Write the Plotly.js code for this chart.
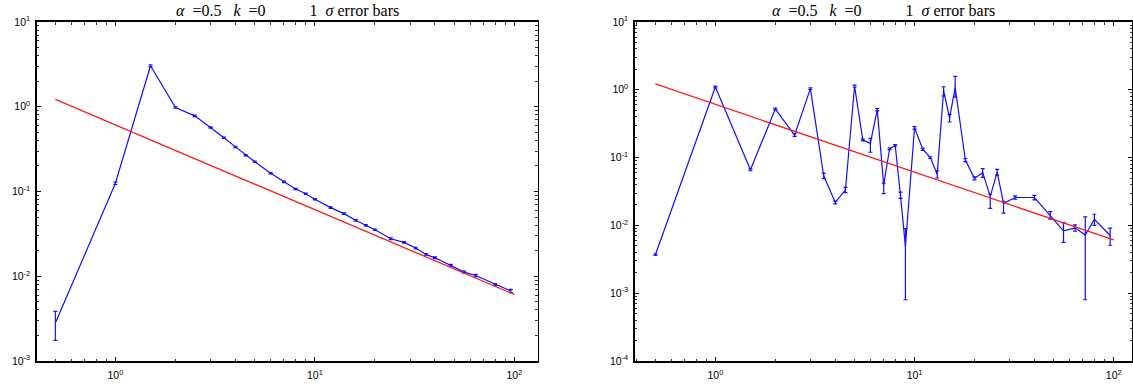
<!DOCTYPE html>
<html><head><meta charset="utf-8">
<script src="https://cdn.plot.ly/plotly-3.0.1.min.js"></script>
<style>html,body{margin:0;padding:0;background:#fff}#chart{width:1133px;height:386px}</style>
</head><body><div id="chart"></div>
<script>
// ---- Left panel data ----
const leftX = [0.5, 1, 1.5, 2, 2.5, 3, 3.5, 4, 4.5, 5, 6, 7, 8, 9, 10, 12, 14, 16, 18, 20, 24, 28, 32, 36, 40, 48, 56, 64, 80, 96];
const leftY = [0.0028, 0.125, 3.05, 0.98, 0.78, 0.57, 0.43, 0.336, 0.268, 0.224, 0.164, 0.13, 0.107, 0.094, 0.081, 0.0645, 0.0548, 0.0457, 0.0399, 0.0354, 0.0277, 0.0251, 0.0215, 0.0181, 0.0165, 0.0135, 0.0112, 0.0102, 0.0080, 0.0067];
const leftErr = [0.00105, 0.004, 0.08, 0.02, 0.015, 0.01, 0.008, 0.006, 0.005, 0.004, 0.003, 0.0025, 0.002, 0.0018, 0.0015, 0.0012, 0.001, 0.0009, 0.0008, 0.0007, 0.0006, 0.0005, 0.0005, 0.0004, 0.0004, 0.0003, 0.0003, 0.0003, 0.0002, 0.0003];

// ---- Right panel data ----
const rightX = [0.5, 1, 1.5, 2, 2.5, 3, 3.5, 4, 4.5, 5, 5.5, 6, 6.5, 7, 7.5, 8, 8.5, 9, 10, 11, 12, 13, 14, 15, 16, 18, 20, 22, 24, 26, 28, 32, 40, 48, 56, 64, 72, 80, 96];
const rightY = [0.0037, 1.1, 0.066, 0.52, 0.215, 1.04, 0.054, 0.0218, 0.0335, 1.13, 0.182, 0.162, 0.51, 0.040, 0.135, 0.151, 0.028, 0.0049, 0.275, 0.133, 0.100, 0.057, 0.96, 0.385, 1.08, 0.092, 0.0495, 0.060, 0.0268, 0.061, 0.0212, 0.0258, 0.0258, 0.0142, 0.0083, 0.0092, 0.0072, 0.0123, 0.0071];
const rightErrPlus = [0.0001, 0.03, 0.002, 0.015, 0.01, 0.03, 0.005, 0.001, 0.003, 0.04, 0.005, 0.03, 0.02, 0.002, 0.004, 0.004, 0.003, 0.0041, 0.012, 0.005, 0.003, 0.007, 0.15, 0.05, 0.5, 0.005, 0.0025, 0.009, 0.002, 0.006, 0.0015, 0.0015, 0.002, 0.0018, 0.0027, 0.001, 0.0062, 0.0023, 0.002];
const rightErrMinus = [0.0001, 0.03, 0.002, 0.015, 0.01, 0.03, 0.005, 0.001, 0.003, 0.04, 0.005, 0.042, 0.02, 0.0105, 0.004, 0.004, 0.003, 0.0041, 0.012, 0.005, 0.003, 0.007, 0.15, 0.05, 0.3, 0.005, 0.0025, 0.009, 0.009, 0.006, 0.006, 0.0015, 0.002, 0.0018, 0.0027, 0.001, 0.0064, 0.0023, 0.002];

// ---- Reference power-law line (endpoints) ----
const fitX = [0.5, 100];
const fitY = [1.22, 0.0061];

// ---- Tick labels ----
const xTickVals = [1, 10, 100];
const xTickText = ['10<sup>0</sup>', '10<sup>1</sup>', '10<sup>2</sup>'];
const yTickValsL = [0.001, 0.01, 0.1, 1, 10];
const yTickTextL = ['10<sup>-3</sup>', '10<sup>-2</sup>', '10<sup>-1</sup>', '10<sup>0</sup>', '10<sup>1</sup>'];
const yTickValsR = [0.0001, 0.001, 0.01, 0.1, 1, 10];
const yTickTextR = ['10<sup>-4</sup>', '10<sup>-3</sup>', '10<sup>-2</sup>', '10<sup>-1</sup>', '10<sup>0</sup>', '10<sup>1</sup>'];

const NB = '\u00A0';
const titleText = '<i>α</i>' + NB + NB + '=0.5' + NB + NB + NB + '<i>k</i>' + NB + NB + '=0' +
  NB.repeat(11) + '1' + NB + NB + '<i>σ</i>' + NB + 'error' + NB + 'bars';

function minorVals(lo, hi) {
  const v = [];
  for (let d = lo; d < hi + 1; d++) for (let m = 2; m <= 9; m++) v.push(m * Math.pow(10, d));
  return v;
}

const BLUE = '#1010ff';
const RED = '#ff1a1a';
const traces = [
  {x: leftX, y: leftY, xaxis: 'x', yaxis: 'y', mode: 'lines', line: {color: BLUE, width: 1.2},
   error_y: {type: 'data', array: leftErr, visible: true, color: BLUE, thickness: 1.2, width: 2}},
  {x: fitX, y: fitY, xaxis: 'x', yaxis: 'y', mode: 'lines', line: {color: RED, width: 1.3}},
  {x: rightX, y: rightY, xaxis: 'x2', yaxis: 'y2', mode: 'lines', line: {color: BLUE, width: 1.2},
   error_y: {type: 'data', symmetric: false, array: rightErrPlus, arrayminus: rightErrMinus, visible: true, color: BLUE, thickness: 1.2, width: 2}},
  {x: fitX, y: fitY, xaxis: 'x2', yaxis: 'y2', mode: 'lines', line: {color: RED, width: 1.3}}
];

const tickFont = {family: 'Liberation Sans, Arial, sans-serif', size: 10.5, color: '#000'};
function axisBase(extra) {
  return Object.assign({
    type: 'log', showgrid: false, zeroline: false,
    showline: true, linecolor: '#000', linewidth: 1.6, mirror: 'ticks',
    ticks: 'inside', ticklen: 4, tickcolor: '#000', tickwidth: 1,
    tickmode: 'array', tickfont: tickFont,
  }, extra);
}
function minorSpec(lo, hi) {
  return {tickmode: 'array', tickvals: minorVals(lo, hi), ticks: 'inside', ticklen: 2.5, tickcolor: '#333', tickwidth: 1, showgrid: false};
}

const yDom = [25 / 386, 364 / 386];
const titleFont = {family: 'Liberation Serif, Times New Roman, serif', size: 16, color: '#000'};
const layout = {
  width: 1133, height: 386,
  margin: {l: 0, r: 0, t: 0, b: 0},
  paper_bgcolor: '#fff', plot_bgcolor: '#fff',
  showlegend: false,
  xaxis: axisBase({domain: [36.8 / 1133, 537.5 / 1133], range: [-0.394, 2.116], anchor: 'y',
    tickvals: xTickVals, ticktext: xTickText, ticklabelstandoff: 4, minor: minorSpec(-1, 2)}),
  yaxis: axisBase({domain: yDom, range: [-3, 1], anchor: 'x',
    tickvals: yTickValsL, ticktext: yTickTextL, ticklabelstandoff: 3, minor: minorSpec(-3, 0)}),
  xaxis2: axisBase({domain: [634.9 / 1133, 1132 / 1133], range: [-0.404, 2.092], anchor: 'y2',
    tickvals: xTickVals, ticktext: xTickText, ticklabelstandoff: 4, minor: minorSpec(-1, 2)}),
  yaxis2: axisBase({domain: yDom, range: [-4, 1], anchor: 'x2',
    tickvals: yTickValsR, ticktext: yTickTextR, ticklabelstandoff: 3, minor: minorSpec(-4, 0)}),
  annotations: [
    {text: titleText, xref: 'x domain', yref: 'paper', x: 0.5, y: 1, yanchor: 'top', yshift: 0, showarrow: false, font: titleFont},
    {text: titleText, xref: 'x2 domain', yref: 'paper', x: 0.5, y: 1, yanchor: 'top', yshift: 0, showarrow: false, font: titleFont}
  ]
};

Plotly.newPlot('chart', traces, layout, {staticPlot: true, displayModeBar: false});
</script>
</body></html>
